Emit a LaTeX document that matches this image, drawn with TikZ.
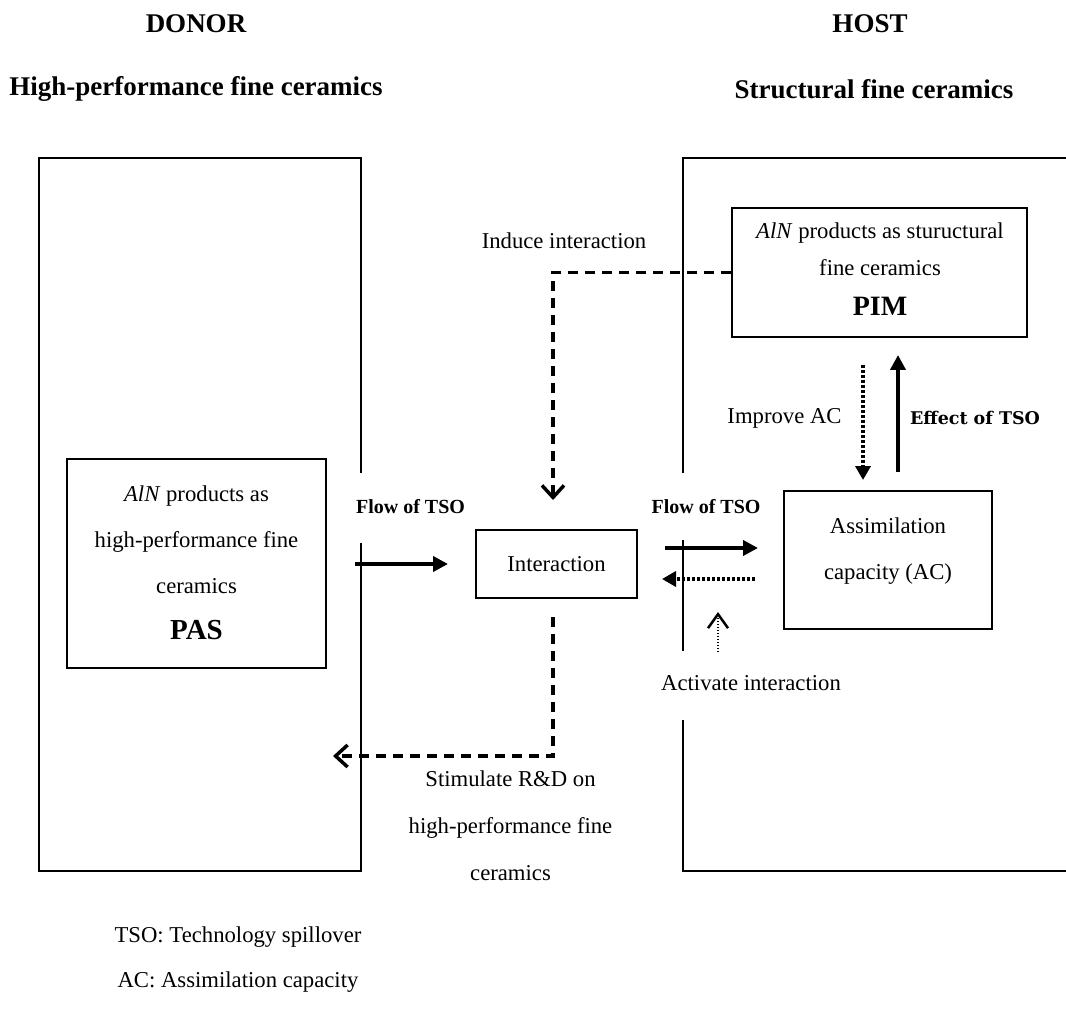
\documentclass[tikz,border=0pt]{standalone}
\usepackage{fontspec}
\setmainfont{Liberation Serif}
\newfontfamily\slabfont{DejaVu Serif}
\usetikzlibrary{arrows.meta}
\begin{document}
\begin{tikzpicture}[x=1pt,y=-1pt,
  frame/.style={draw,line width=1.8pt},
  box/.style={draw,line width=1.6pt,inner sep=0pt},
  txt/.style={inner sep=0pt,align=center,font=\fontsize{22.7pt}{46pt}\selectfont},
  title/.style={inner sep=0pt,font=\fontsize{27pt}{32pt}\selectfont\bfseries},
  flowlabel/.style={inner sep=0pt,font=\fontsize{20pt}{24pt}\selectfont\bfseries},
  flow/.style={line width=4pt,-{Triangle[length=15pt,width=15pt]}},
  dotflow/.style={line width=4pt,dash pattern=on 3pt off 2pt,-{Triangle[length=14pt,width=15pt]}},
  dashlink/.style={line width=3.5pt,dash pattern=on 10pt off 7pt,-{Straight Barb[length=12pt,width=22pt]}},
  thinlink/.style={line width=2pt,dash pattern=on 1.5pt off 1.5pt,-{Straight Barb[length=14pt,width=20pt,line width=2.5pt]}}
]
\useasboundingbox (0,0) rectangle (1066,1016);

% headings
\node[title] (donor) at (196,24) {DONOR};
\node[title] (host) at (870,24) {HOST};
\node[title] (donorsub) at (196,89) {High-performance fine ceramics};
\node[title] (hostsub) at (874,89) {Structural fine ceramics};

% donor and host frames (broken where labels cross them)
\draw[frame] (361,473) -- (361,158) -- (39,158) -- (39,871) -- (361,871) -- (361,543);
\draw[frame] (683,473) -- (683,158) -- (1066,158);
\draw[frame] (683,540) -- (683,651);
\draw[frame] (683,720) -- (683,871) -- (1066,871);

% boxes
\node[box,minimum width=259pt,minimum height=209pt] (pas) at (196.5,563.5) {};
\node[txt] (pastext) at (196.5,563) {\textit{AlN} products as\\high-performance fine\\ceramics\\{\fontsize{29pt}{46pt}\selectfont\bfseries PAS}};

\node[box,txt,minimum width=161pt,minimum height=68pt] (inter) at (556.5,564) {Interaction};

\node[box,minimum width=208pt,minimum height=138pt] (ac) at (888,560) {};
\node[txt] (actext) at (888,551) {Assimilation\\capacity (AC)};

\node[box,minimum width=295pt,minimum height=129pt] (pim) at (879.5,272.5) {};
\node[txt,font=\fontsize{22.7pt}{37pt}\selectfont] (pimtext) at (880,269) {\textit{AlN} products as stuructural\\fine ceramics\\[3pt]{\fontsize{28pt}{37pt}\selectfont\bfseries PIM}};

% arrow end points
\coordinate (lfa) at (355,564);  \coordinate (lfb) at (448,564);
\coordinate (rfa) at (665,548);  \coordinate (rfb) at (758,548);
\coordinate (bka) at (755,579);  \coordinate (bkb) at (662,579);
\coordinate (ima) at (863,365);  \coordinate (imb) at (863,480);
\coordinate (efa) at (898,472);  \coordinate (efb) at (898,355);
\coordinate (aca) at (718,652);  \coordinate (acb) at (718,612);
\coordinate (indtip) at (553,500);
\coordinate (stima) at (553,617); \coordinate (stimtip) at (333,756);

% connectors
\draw[flow] (lfa) -- (lfb);
\draw[flow] (rfa) -- (rfb);
\draw[dotflow] (bka) -- (bkb);
\draw[dotflow] (ima) -- (imb);
\draw[flow] (efa) -- (efb);
\draw[thinlink] (aca) -- (acb);
\draw[dashlink] (pim.west) -| (indtip);
\draw[dashlink] (stima) |- (stimtip);

% labels
\node[flowlabel] (flowl) at (410.5,507) {Flow of TSO};
\node[flowlabel] (flowr) at (706,507) {Flow of TSO};
\node[txt] (induce) at (564,241) {Induce interaction};
\node[txt] (improve) at (784.5,418) {Improve AC};
\node[inner sep=0pt,font=\slabfont\bfseries\fontsize{17.5pt}{20pt}\selectfont] (effect) at (975,418) {Effect of TSO};
\node[txt] (activate) at (751,683) {Activate interaction};
\node[txt,font=\fontsize{22.7pt}{47pt}\selectfont] (stim) at (510.5,826) {Stimulate R\&D on\\high-performance fine\\ceramics};
\node[txt,font=\fontsize{22.7pt}{45pt}\selectfont] (notes) at (238,960) {TSO: Technology spillover\\AC: Assimilation capacity};
\end{tikzpicture}
\end{document}
